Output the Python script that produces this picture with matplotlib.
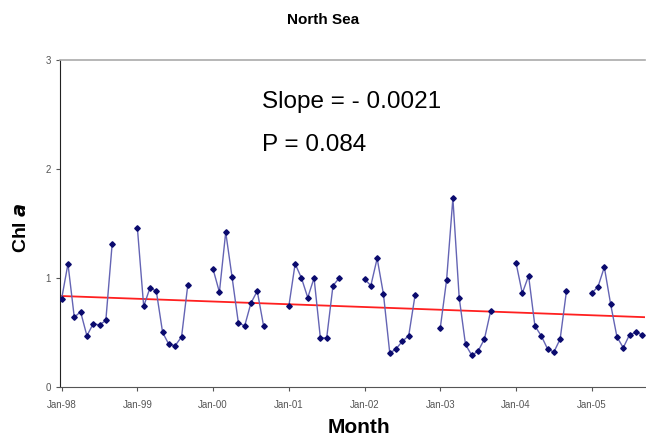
import matplotlib
matplotlib.use("Agg")
import matplotlib.pyplot as plt
import numpy as np

plt.rcParams['font.family'] = ['Liberation Sans', 'DejaVu Sans']

# monthly Chl a, Jan-98 .. Sep-05 (None = no data)
nan = None
chl_1998 = [0.81, 1.13, 0.64, 0.69, 0.47, 0.58, 0.57, 0.61, 1.31, nan, nan, nan]
chl_1999 = [1.46, 0.74, 0.91, 0.88, 0.50, 0.39, 0.38, 0.46, 0.94, nan, nan, nan]
chl_2000 = [1.08, 0.87, 1.42, 1.01, 0.59, 0.56, 0.77, 0.88, 0.56, nan, nan, nan]
chl_2001 = [0.74, 1.13, 1.00, 0.82, 1.00, 0.45, 0.45, 0.93, 1.00, nan, nan, nan]
chl_2002 = [0.99, 0.93, 1.18, 0.85, 0.31, 0.35, 0.42, 0.47, 0.84, nan, nan, nan]
chl_2003 = [0.54, 0.98, 1.73, 0.82, 0.39, 0.29, 0.33, 0.44, 0.70, nan, nan, nan]
chl_2004 = [1.14, 0.86, 1.02, 0.56, 0.47, 0.35, 0.32, 0.44, 0.88, nan, nan, nan]
chl_2005 = [0.86, 0.92, 1.10, 0.76, 0.46, 0.36, 0.48, 0.50, 0.48]

year_labels = ['Jan-98', 'Jan-99', 'Jan-00', 'Jan-01', 'Jan-02', 'Jan-03', 'Jan-04', 'Jan-05']

slope = -0.0021
intercept = 0.835
p_value = 0.084

chl = chl_1998 + chl_1999 + chl_2000 + chl_2001 + chl_2002 + chl_2003 + chl_2004 + chl_2005
chl = np.array([np.nan if v is None else v for v in chl], dtype=float)
months = np.arange(len(chl))

fig = plt.figure(figsize=(6.46, 4.37), dpi=100)
ax = fig.add_axes([0.093, 0.1144, 0.905, 0.7485])

ax.plot(months, chl, color='#6464b4', lw=1.0, marker='D', ms=2.8,
        mfc='#0a0a6e', mec='#0a0a6e', zorder=3)

xmin, xmax = -0.25, 92.4
xt = np.array([xmin, xmax])
ax.plot(xt, intercept + slope * (xt - xmin), color='#ff2020', lw=1.3, zorder=2)

ax.set_xlim(xmin, xmax)
ax.set_ylim(0, 3)
ax.set_yticks([0, 1, 2, 3])
ax.set_xticks(np.arange(0, 96, 12)[:len(year_labels)])
ax.set_xticklabels(year_labels)
ax.tick_params(axis='both', labelsize=7, colors='#555555', length=3, width=0.8, direction='out')
ax.tick_params(axis='x', pad=6)

ax.spines['right'].set_visible(False)
ax.spines['top'].set_color('#aaaaaa')
ax.spines['top'].set_linewidth(1.2)
ax.spines['left'].set_color('#222222')
ax.spines['bottom'].set_color('#555555')

fig.text(0.5, 0.954, 'North Sea', ha='center', va='center', fontsize=11, fontweight='bold')
fig.text(0.555, 0.022, 'Month', ha='center', va='center', fontsize=15, fontweight='bold')
fig.text(0.034, 0.48, r'Chl $\boldsymbol{a}$', ha='center', va='center', rotation=90,
         fontsize=14, fontweight='bold')

fig.text(0.4056, 0.767, 'Slope = - %.4f' % abs(slope), ha='left', va='center', fontsize=17.5)
fig.text(0.4056, 0.668, 'P = %.3f' % p_value, ha='left', va='center', fontsize=17.5)

fig.savefig('out.png', dpi=100)
